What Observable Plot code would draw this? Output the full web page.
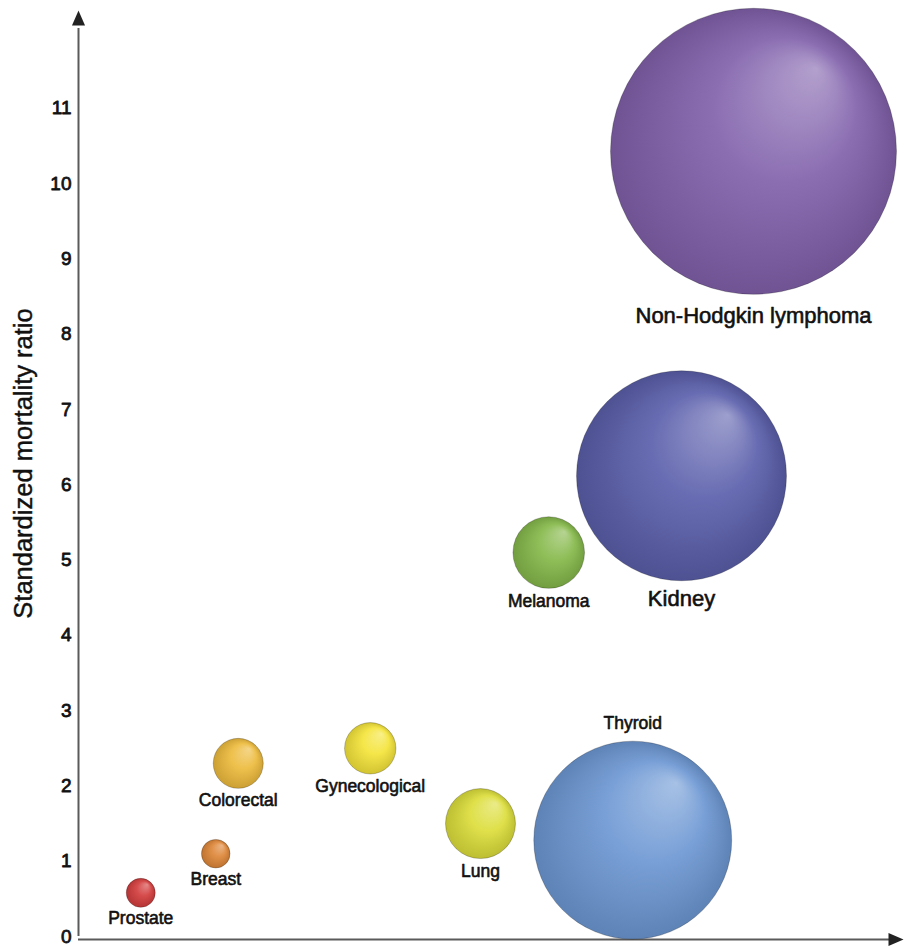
<!DOCTYPE html>
<html><head><meta charset="utf-8">
<script src="https://cdn.jsdelivr.net/npm/d3@7"></script>
<script src="https://cdn.jsdelivr.net/npm/@observablehq/plot@0.6"></script>
<style>
body{margin:0;background:#fff}
#chart svg{display:block}
</style>
</head><body><div id="chart"></div>
<script>
// ---- data ----
const cancers = ["Prostate","Breast","Colorectal","Gynecological","Lung","Melanoma","Thyroid","Kidney","Non-Hodgkin lymphoma"];
const position = [0.83, 1.83, 2.13, 3.89, 5.36, 6.27, 7.39, 8.04, 9.0];      // unlabeled horizontal axis
const smr = [0.58, 1.10, 2.30, 2.50, 1.50, 5.10, 1.28, 6.12, 10.43];           // standardized mortality ratio
const bubbleSize = [1.03, 1.0, 3.06, 3.23, 5.99, 6.27, 47.9, 53.9, 100];       // relative bubble area
const labelSide = ["below","below","below","below","below","below","above","below","below"];
const baseColors = ["#d23c3c","#dd8638","#edba3c","#f4e43a","#dcdd3a","#85b84a","#6d98d4","#5b5fab","#8161ab"];
const yTicks = [0,1,2,3,4,5,6,7,8,9,10,11];
const yLabel = "Standardized mortality ratio";

// ---- layout ----
const W = 905, H = 946;
const M = {top: 10, right: 2, bottom: 10, left: 78};
const xDomain = [0, 11], yDomain = [0, 12.3];

const rows = cancers.map((name, i) => ({
  name, x: position[i], smr: smr[i], size: bubbleSize[i], side: labelSide[i]
}));

const rScale = Plot.scale({r: {type: "sqrt", domain: [0, 100], range: [0, 143]}});
const yScale = Plot.scale({y: {domain: yDomain, range: [H - M.bottom, M.top]}});

const labels = rows.map(d => {
  const r = rScale.apply(d.size);
  const fs = d.size > 50 ? 22 : 17.5;
  const gap = 10 + 0.08 * r;
  const py = yScale.apply(d.smr) + (d.side === "above" ? -(r + gap) : (r + gap));
  return {name: d.name, x: d.x, y: yScale.invert(py), fs};
});

const arrowHead = {draw(ctx){ ctx.moveTo(0,0); ctx.lineTo(-6.5,15); ctx.lineTo(6.5,15); ctx.closePath(); }};
const axisColor = "#5a5a5a";
const ink = "#111";

const chart = Plot.plot({
  width: W, height: H,
  marginTop: M.top, marginRight: M.right, marginBottom: M.bottom, marginLeft: M.left,
  style: {fontFamily: "'Liberation Sans', Arial, Helvetica, sans-serif", background: "#fff", color: ink},
  x: {domain: xDomain, axis: null},
  y: {domain: yDomain, axis: null},
  r: {type: "sqrt", domain: [0, 100], range: [0, 143]},
  color: {domain: cancers, range: cancers.map((_, i) => `url(#bubble-${i})`)},
  marks: [
    Plot.axisY(yTicks, {tickSize: 0, tickPadding: 7, fontSize: 19, tickFormat: d3.format("d"), label: null,
                        textStroke: ink, textStrokeWidth: 0.8}),
    Plot.text([yLabel], {frameAnchor: "left", textAnchor: "middle", rotate: -90, dx: -55, dy: -10,
                         fontSize: 25.5, fill: ink, stroke: ink, strokeWidth: 0.4}),
    Plot.ruleX([xDomain[0]], {stroke: axisColor, strokeWidth: 2, y1: 0, y2: yDomain[1] - 0.2, insetBottom: -3}),
    Plot.ruleY([yDomain[0]], {stroke: axisColor, strokeWidth: 2, x1: 0, x2: xDomain[1] - 0.15, dy: 3}),
    Plot.dot([{x: xDomain[0], y: yDomain[1]}], {x: "x", y: "y", symbol: arrowHead, r: 5, fill: "#222", stroke: null}),
    Plot.dot([{x: xDomain[1], y: yDomain[0]}], {x: "x", y: "y", symbol: arrowHead, rotate: 90, r: 5, fill: "#222", stroke: null, dy: 3}),
    Plot.dot(rows, {x: "x", y: "smr", r: "size", fill: "name", stroke: "#000", strokeOpacity: 0.22, strokeWidth: 1}),
    Plot.text(labels, {x: "x", y: "y", text: "name", fontSize: "fs", fill: ink, stroke: ink, strokeWidth: 0.6})
  ]
});

// radial gradients giving each bubble its glossy look
const defs = d3.select(chart).insert("defs", ":first-child");
baseColors.forEach((c, i) => {
  const g = defs.append("radialGradient").attr("id", `bubble-${i}`)
    .attr("cx", "50%").attr("cy", "50%").attr("r", "50%").attr("fx", "72%").attr("fy", "21%");
  g.append("stop").attr("offset", "0").attr("stop-color", d3.interpolateRgb(c, "#fff")(0.4));
  g.append("stop").attr("offset", "0.5").attr("stop-color", d3.interpolateRgb(c, "#fff")(0.08));
  g.append("stop").attr("offset", "1").attr("stop-color", d3.interpolateRgb(c, "#000")(0.14));
});

document.getElementById("chart").appendChild(chart);
</script>
</body></html>
